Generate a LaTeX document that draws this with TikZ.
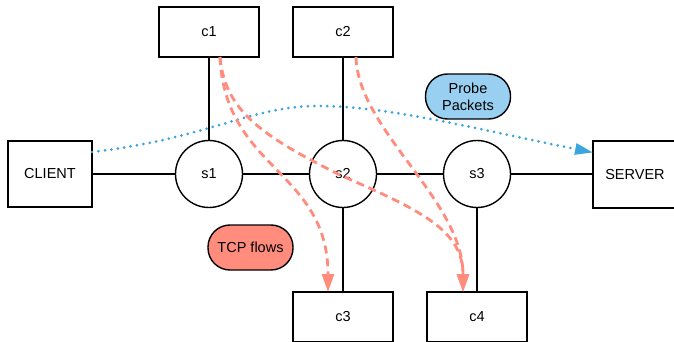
\documentclass[tikz,border=0pt]{standalone}
\usepackage{fontspec}
\setmainfont{Liberation Sans}
\usetikzlibrary{arrows.meta}
\definecolor{flowred}{RGB}{255,140,125}
\definecolor{tcpfill}{RGB}{255,140,125}
\definecolor{probefill}{RGB}{153,208,242}
\definecolor{probeline}{RGB}{59,166,222}
\tikzset{
  box/.style={draw, line width=1.4pt, minimum width=100pt, minimum height=50pt, inner sep=0pt, outer sep=0pt, font=\fontsize{14.5}{17}\selectfont},
  sw/.style={draw, circle, line width=1.4pt, minimum size=67pt, inner sep=0pt, outer sep=0pt, fill=white, font=\fontsize{14.5}{17}\selectfont},
  link/.style={line width=1.4pt},
  pill/.style={draw, line width=1.4pt, rounded corners=22pt, minimum width=85pt, minimum height=45pt, inner sep=0pt, align=center, font=\fontsize{14.5}{17}\selectfont},
  flow/.style={draw=flowred, line width=2.8pt, dash pattern=on 8pt off 5pt, -{Triangle[length=18pt,width=12pt,fill=flowred,sep=0pt]}},
  probe/.style={draw=probeline, line width=3pt, line cap=round, dash pattern=on 0pt off 6.5pt, -{Triangle[length=18pt,width=11pt,fill=probeline,line cap=butt]}}
}
\begin{document}
\begin{tikzpicture}[x=1pt,y=-1pt]
\useasboundingbox (0,0) rectangle (674,342);
\clip (0,0) rectangle (674,342);
% nodes
\node[box, minimum width=84pt, minimum height=66pt] (client) at (50,174) {CLIENT};
\node[box, minimum width=84pt, minimum height=67pt] (server) at (635,174.5) {SERVER};
\node[box] (c1) at (209,32) {c1};
\node[box] (c2) at (343,32) {c2};
\node[box] (c3) at (343,317) {c3};
\node[box] (c4) at (477,317) {c4};
\node[sw] (s1) at (209,174) {s1};
\node[sw] (s2) at (343,174) {s2};
\node[sw] (s3) at (477,174) {s3};
\node[pill, fill=tcpfill] (tcp) at (250.5,247.5) {TCP flows};
\node[pill, fill=probefill] (pp) at (468,96.5) {Probe\\Packets};
% links
\draw[link] (client) -- (s1);
\draw[link] (s1) -- (s2);
\draw[link] (s2) -- (s3);
\draw[link] (s3) -- (server.west |- s3);
\draw[link] (c1) -- (s1);
\draw[link] (c2) -- (s2);
\draw[link] (s2) -- (c3);
\draw[link] (s3) -- (c4);
% probe packets
\draw[probe] ([yshift=22pt]client.east) .. controls (210,138) and (250,106) .. (318,106)
  .. controls (390,106) and (480,130) .. ([yshift=22pt]server.west);
% TCP flows
\draw[flow] ([xshift=11pt]c1.south) .. controls (225,170) and (328,170) .. ([xshift=-15pt]c3.north);
\draw[flow] ([xshift=11pt]c1.south) .. controls (225,110) and (260,135) .. (340,175)
  .. controls (420,210) and (463,230) .. ([xshift=-14pt]c4.north);
\draw[flow] ([xshift=13pt]c2.south) .. controls (358,130) and (463,200) .. ([xshift=-14pt]c4.north);
\end{tikzpicture}
\end{document}
